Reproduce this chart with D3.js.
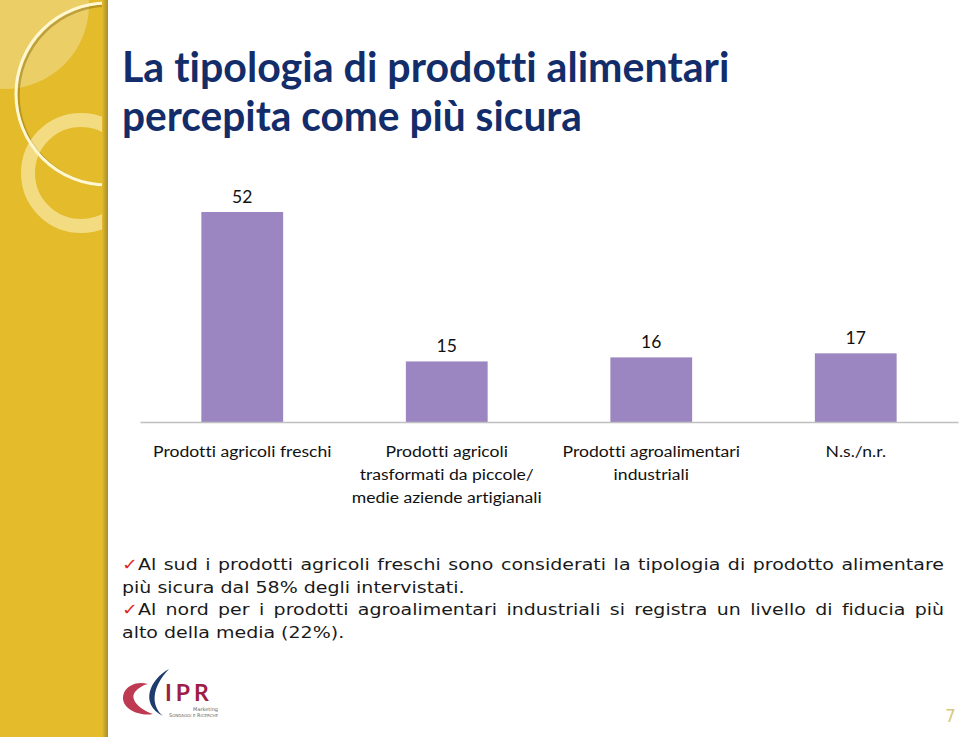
<!DOCTYPE html>
<html>
  <head>
    <style>
      html,
      body { margin: 0; background: #fff; }
      svg { display: block; }
      text { font-variant-ligatures: none !important; }
    </style>
    <script src="https://d3js.org/d3.v7.js"></script>
  </head>
  <body>
    <svg class="chart"></svg>

    <script>
      const width = 959;
      const height = 737;

      // chart data
      const categories = [
        ['Prodotti agricoli freschi'],
        ['Prodotti agricoli', 'trasformati da piccole/', 'medie aziende artigianali'],
        ['Prodotti agroalimentari', 'industriali'],
        ['N.s./n.r.']
      ];
      const values = [52, 15, 16, 17];

      const titleLines = ['La tipologia di prodotti alimentari', 'percepita come più sicura'];

      const noteLines = [
        'Al sud i prodotti agricoli freschi sono considerati la tipologia di prodotto alimentare',
        'più sicura dal 58% degli intervistati.',
        'Al nord per i prodotti agroalimentari industriali si registra un livello di fiducia più',
        'alto della media (22%).'
      ];
      const noteChecked = [true, false, true, false];
      const noteJustified = [true, false, true, false];

      const pageNumber = '7';

      const canvas = document.createElement('canvas');
      const context = canvas.getContext('2d');

      // measure text width with canvas element
      const measureText = (text, font) => {
        context.font = font;
        return context.measureText(text).width;
      };

      const svg = d3.select('svg')
        .attr('width', width)
        .attr('height', height);

      const defs = svg.append('defs');

      defs.append('clipPath')
        .attr('id', 'side-clip')
        .append('rect')
        .attr('width', 106)
        .attr('height', height);

      const edge = defs.append('linearGradient').attr('id', 'edge');
      edge.append('stop').attr('offset', '0%').attr('stop-color', '#e3bb2b');
      edge.append('stop').attr('offset', '100%').attr('stop-color', '#a98b2c');

      // yellow side band with rings
      const side = svg.append('g');

      side.append('rect')
        .attr('width', 108)
        .attr('height', height)
        .attr('fill', '#e3bb2b');

      const deco = side.append('g').attr('clip-path', 'url(#side-clip)');

      deco.append('circle')
        .attr('cx', 5).attr('cy', 5).attr('r', 84)
        .attr('fill', '#fff')
        .attr('opacity', 0.28);

      deco.append('circle')
        .attr('cx', 108.5).attr('cy', 95.5).attr('r', 90)
        .attr('fill', 'none')
        .attr('stroke', '#8f7114')
        .attr('stroke-opacity', 0.5)
        .attr('stroke-width', 2.5);

      deco.append('circle')
        .attr('cx', 107).attr('cy', 94).attr('r', 91)
        .attr('fill', 'none')
        .attr('stroke', '#fff8d2')
        .attr('stroke-width', 3);

      deco.append('circle')
        .attr('cx', 81).attr('cy', 173).attr('r', 53)
        .attr('fill', 'none')
        .attr('stroke', '#fff6c8')
        .attr('stroke-opacity', 0.55)
        .attr('stroke-width', 14);

      side.append('rect')
        .attr('x', 102)
        .attr('width', 6)
        .attr('height', height)
        .attr('fill', 'url(#edge)');

      // title, squeezed to the reference width
      const titleFont = 'bold 42px Lato';
      const titleWidths = [607, 460];
      const titleBase = [82, 131];

      svg.append('g')
        .selectAll('text')
        .data(titleLines)
        .join('text')
        .attr('transform', (d, i) => {
          const s = titleWidths[i] / measureText(d, titleFont);
          return `translate(122,${titleBase[i]}) scale(${s},1)`;
        })
        .style('font', titleFont)
        .attr('fill', '#132d6b')
        .text((d) => d);

      // bar chart
      const x = d3.scaleBand()
        .domain(d3.range(values.length))
        .range([140, 958])
        .paddingInner(0.6)
        .paddingOuter(0.3);

      const y = d3.scaleLinear()
        .domain([0, 60])
        .range([422, 179.7]);

      const chart = svg.append('g');

      chart.selectAll('rect')
        .data(values)
        .join('rect')
        .attr('x', (d, i) => x(i))
        .attr('y', (d) => y(d))
        .attr('width', x.bandwidth())
        .attr('height', (d) => y(0) - y(d))
        .attr('fill', '#9c86c2');

      chart.append('g')
        .attr('transform', `translate(0,${y(0)})`)
        .call(d3.axisBottom(x).tickSize(0).tickFormat(''))
        .call((g) => g.select('.domain').attr('stroke', '#bfbfbf').attr('stroke-width', 1.3));

      const valueFont = '17.5px Lato';
      chart.selectAll('text.value')
        .data(values)
        .join('text')
        .attr('class', 'value')
        .attr('x', (d, i) => x(i) + x.bandwidth() / 2)
        .attr('y', (d) => y(d) - 9.5)
        .attr('text-anchor', 'middle')
        .style('font', valueFont)
        .attr('fill', '#111')
        .text((d) => d);

      // category labels, all squeezed by the same factor
      const labelFont = '16px Lato';
      const labelScale = 178 / measureText(categories[0][0], labelFont);

      const labels = chart.selectAll('g.label')
        .data(categories)
        .join('g')
        .attr('class', 'label')
        .attr('transform', (d, i) =>
          `translate(${x(i) + x.bandwidth() / 2},0) scale(${labelScale},1)`);

      labels.selectAll('text')
        .data((d) => d)
        .join('text')
        .attr('y', (d, j) => 457 + j * 23.2)
        .attr('text-anchor', 'middle')
        .style('font', labelFont)
        .attr('fill', '#111')
        .text((d) => d);

      // notes under the chart
      const noteFont = '16px "DejaVu Sans"';
      const check = '\u2713';
      const noteScale = 343 / measureText(noteLines[1], noteFont);
      const noteRight = 945;

      const notes = svg.append('g');

      noteLines.forEach((line, i) => {
        const full = (noteChecked[i] ? check : '') + line;
        const spaces = line.split(' ').length - 1;
        let spacing = 0;
        if (noteJustified[i]) {
          const natural = measureText(full, noteFont);
          spacing = ((noteRight - 122) / noteScale - natural) / spaces;
        }

        const t = notes.append('text')
          .attr('transform', `translate(122,${570 + i * 22.6}) scale(${noteScale},1)`)
          .style('font', noteFont)
          .style('word-spacing', `${spacing}px`)
          .attr('fill', '#1a1a1a');

        if (noteChecked[i]) {
          t.append('tspan').attr('fill', '#e0261f').style('font-weight', 'bold').text(check);
        }
        t.append('tspan').text(line);
      });

      // IPR logo
      const logo = svg.append('g');

      logo.append('path')
        .attr('d', 'M148,684 C130,679 117,694 126,706 C132,713 145,716 153,714 C141,710 129,700 135,692 C138,688 143,685 148,684 Z')
        .attr('fill', '#bd3a52');

      logo.append('path')
        .attr('d', 'M169,669 C150,679 139,704 163,716 C151,706 151,688 169,669 Z')
        .attr('fill', '#1f3a6c');

      logo.append('text')
        .attr('x', 165)
        .attr('y', 701)
        .style('font', 'bold 23px Lato')
        .style('letter-spacing', '4px')
        .attr('fill', '#9d1f46')
        .text('IPR');

      logo.append('text')
        .attr('x', 218)
        .attr('y', 711)
        .attr('text-anchor', 'end')
        .style('font', '5px "DejaVu Sans"')
        .attr('fill', '#666')
        .text('Marketing');

      logo.append('text')
        .attr('x', 218)
        .attr('y', 716.5)
        .attr('text-anchor', 'end')
        .style('font', '5px "DejaVu Sans"')
        .style('font-variant', 'small-caps')
        .attr('fill', '#666')
        .text('Sondaggi e Ricerche');

      svg.append('text')
        .attr('x', 945)
        .attr('y', 722)
        .style('font', '17px "DejaVu Sans"')
        .attr('fill', '#d5c87c')
        .text(pageNumber);
    </script>
  </body>
</html>
